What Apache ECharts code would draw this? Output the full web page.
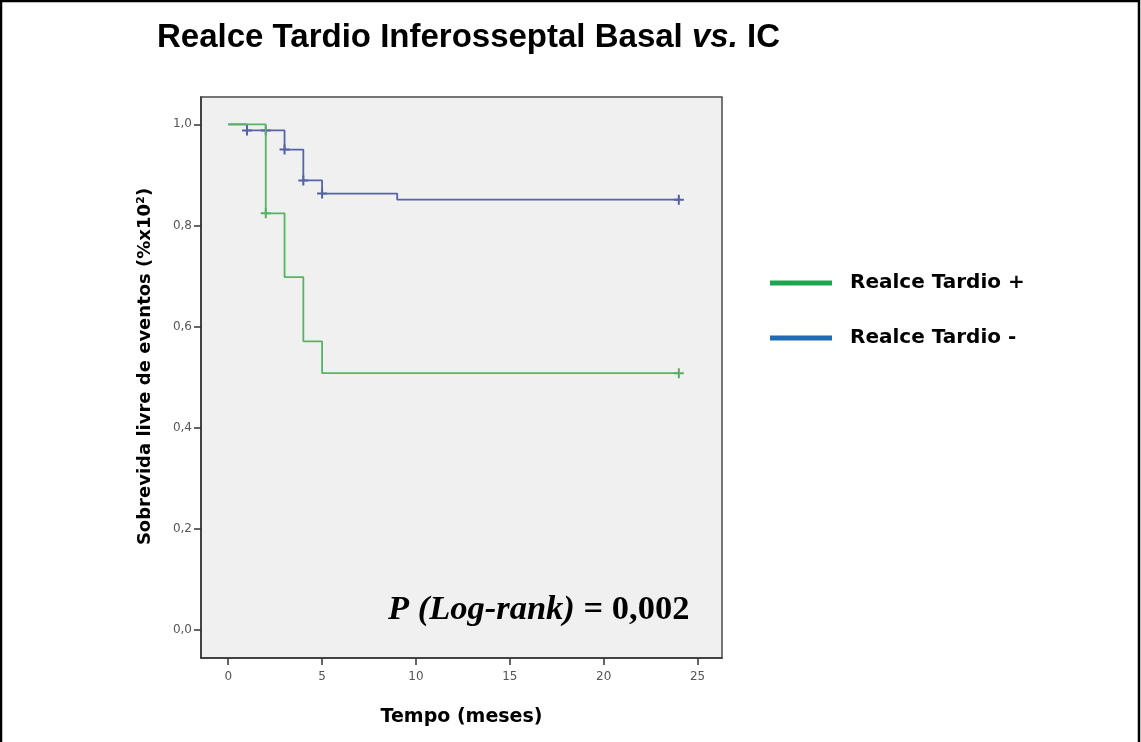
<!DOCTYPE html>
<html>
<head>
<meta charset="utf-8">
<script src="https://cdn.jsdelivr.net/npm/echarts@6/dist/echarts.min.js"></script>
<style>
html,body{margin:0;padding:0;background:#fff;}
#chart{width:1141px;height:742px;}
</style>
</head>
<body>
<div id="chart"></div>
<script>
// ---- data ----
const timeTicks = [0, 5, 10, 15, 20, 25];
const survTicks = [0, 0.2, 0.4, 0.6, 0.8, 1.0];

const greenName = 'Realce Tardio +';
const greenTimes = [0, 2, 3, 4, 5, 24];
const greenSurv  = [1.0, 0.824, 0.698, 0.571, 0.508, 0.508];
const greenCensorTimes = [2, 24];
const greenCensorSurv  = [0.824, 0.508];

const blueName = 'Realce Tardio -';
const blueTimes = [0, 1, 3, 4, 5, 9, 24];
const blueSurv  = [1.0, 0.988, 0.950, 0.889, 0.863, 0.851, 0.851];
const blueCensorTimes = [1, 2, 3, 4, 5, 24];
const blueCensorSurv  = [0.988, 0.988, 0.950, 0.889, 0.863, 0.851];

const titleText = 'Realce Tardio Inferosseptal Basal ';
const titleItalic = 'vs.';
const titleEnd = ' IC';
const pItalic = 'P (Log-rank)';
const pValue = ' = 0,002';
const xName = 'Tempo (meses)';
const yName = 'Sobrevida livre de eventos (%x10²)';

const zip = (a, b) => a.map((v, i) => [v, b[i]]);
const plus = 'path://M4,0H6V4H10V6H6V10H4V6H0V4H4Z';

const chart = echarts.init(document.getElementById('chart'), null, {renderer: 'canvas'});
const labelFont = 'DejaVu Sans';

chart.setOption({
  animation: false,
  backgroundColor: '#ffffff',
  title: [
    {
      left: 152, top: 16,
      text: '{a|' + titleText + '}{b|' + titleItalic + '}{a|' + titleEnd + '}',
      textStyle: {
        rich: {
          a: {fontFamily: 'Liberation Sans', fontWeight: 'bold', fontSize: 33, color: '#000'},
          b: {fontFamily: 'Liberation Sans', fontWeight: 'bold', fontStyle: 'italic', fontSize: 33, color: '#000'}
        }
      }
    },
    {
      left: 383, top: 588,
      text: '{i|' + pItalic + '}{n|' + pValue + '}',
      textStyle: {
        rich: {
          i: {fontFamily: 'Liberation Serif', fontWeight: 'bold', fontStyle: 'italic', fontSize: 34.5, color: '#000'},
          n: {fontFamily: 'Liberation Serif', fontWeight: 'bold', fontSize: 34.5, color: '#000'}
        }
      }
    }
  ],
  legend: [
    {
      orient: 'vertical', left: 770, top: 273, padding: 0,
      icon: 'rect', itemWidth: 62, itemHeight: 5,
      data: [{name: greenName, itemStyle: {color: '#1fa552'}}],
      textStyle: {fontFamily: labelFont, fontWeight: 'bold', fontSize: 20, color: '#000', padding: [0, 0, 0, 13]}
    },
    {
      orient: 'vertical', left: 770, top: 328, padding: 0,
      icon: 'rect', itemWidth: 62, itemHeight: 5,
      data: [{name: blueName, itemStyle: {color: '#1e6db2'}}],
      textStyle: {fontFamily: labelFont, fontWeight: 'bold', fontSize: 20, color: '#000', padding: [0, 0, 0, 13]}
    }
  ],
  grid: {
    left: 201, top: 97, width: 521, height: 561,
    show: true, backgroundColor: '#f0f0f0', borderColor: '#4a4a4a', borderWidth: 1.5
  },
  xAxis: {
    type: 'value', min: -1.45, max: 26.3,
    name: xName, nameLocation: 'middle', nameGap: 50,
    nameTextStyle: {fontFamily: labelFont, fontWeight: 'bold', fontSize: 19, color: '#000'},
    axisLine: {show: true, onZero: false, lineStyle: {color: '#333', width: 1.5}},
    axisTick: {show: true, length: 7, customValues: timeTicks, lineStyle: {color: '#333', width: 1.5}},
    axisLabel: {customValues: timeTicks, margin: 13, fontFamily: labelFont, fontSize: 12, color: '#555'},
    splitLine: {show: false}
  },
  yAxis: {
    type: 'value', min: -0.055, max: 1.054,
    name: yName, nameLocation: 'middle', nameGap: 47, nameRotate: 90,
    nameTextStyle: {fontFamily: labelFont, fontWeight: 'bold', fontSize: 18, color: '#000', padding: [0, 0, 0, 22]},
    axisLine: {show: true, onZero: false, lineStyle: {color: '#333', width: 1.5}},
    axisTick: {show: true, length: 7, customValues: survTicks, lineStyle: {color: '#333', width: 1.5}},
    axisLabel: {
      customValues: survTicks, margin: 9, fontFamily: labelFont, fontSize: 12, color: '#555',
      formatter: v => v.toFixed(1).replace('.', ',')
    },
    splitLine: {show: false}
  },
  series: [
    {
      name: blueName, type: 'line', step: 'end', showSymbol: false,
      data: zip(blueTimes, blueSurv),
      lineStyle: {color: '#5565a8', width: 1.8}, itemStyle: {color: '#5565a8'}
    },
    {
      name: greenName, type: 'line', step: 'end', showSymbol: false,
      data: zip(greenTimes, greenSurv),
      lineStyle: {color: '#56b464', width: 1.8}, itemStyle: {color: '#56b464'}
    },
    {
      name: 'censor-', type: 'scatter', symbol: plus, symbolSize: 10,
      data: zip(blueCensorTimes, blueCensorSurv), itemStyle: {color: '#2b3d8f'}
    },
    {
      name: 'censor+', type: 'scatter', symbol: plus, symbolSize: 10,
      data: zip(greenCensorTimes, greenCensorSurv), itemStyle: {color: '#2f9e3e'}
    }
  ],
  graphic: [
    {type: 'rect', shape: {x: 1, y: 1, width: 1138, height: 780}, style: {fill: 'none', stroke: '#000', lineWidth: 2.5}, silent: true}
  ]
});
</script>
</body>
</html>
